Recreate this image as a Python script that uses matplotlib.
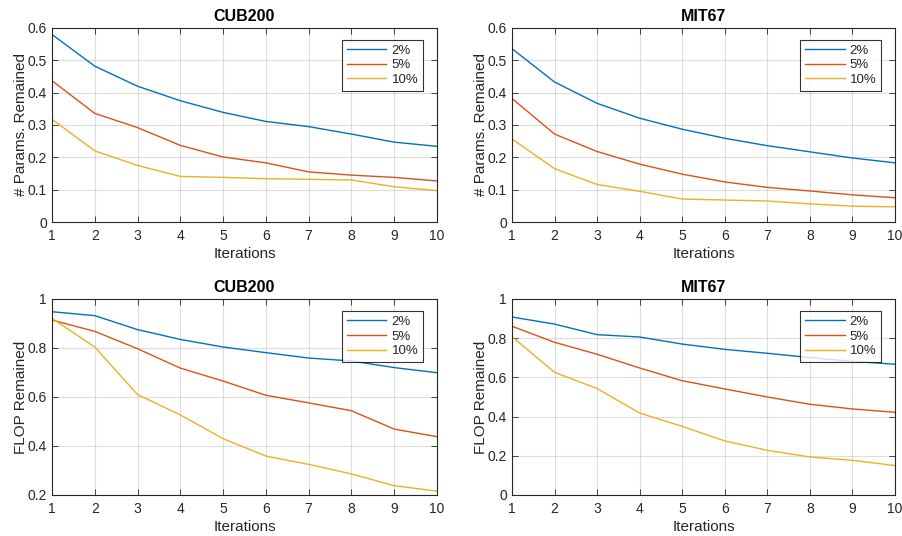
import matplotlib.pyplot as plt
import numpy as np

plt.rcParams['font.family'] = ['Liberation Sans', 'DejaVu Sans']

iterations = np.arange(1, 11)
series_labels = ["2%", "5%", "10%"]
colors = ["#0072BD", "#D95319", "#EDB120"]

# params remained
cub_params_2 = [0.580, 0.482, 0.420, 0.375, 0.339, 0.311, 0.295, 0.272, 0.247, 0.234]
cub_params_5 = [0.437, 0.336, 0.292, 0.237, 0.201, 0.183, 0.155, 0.145, 0.138, 0.127]
cub_params_10 = [0.318, 0.220, 0.175, 0.141, 0.138, 0.134, 0.132, 0.130, 0.109, 0.097]

mit_params_2 = [0.536, 0.433, 0.367, 0.321, 0.287, 0.259, 0.236, 0.217, 0.198, 0.183]
mit_params_5 = [0.382, 0.272, 0.218, 0.179, 0.148, 0.124, 0.107, 0.096, 0.084, 0.075]
mit_params_10 = [0.257, 0.165, 0.116, 0.095, 0.071, 0.068, 0.065, 0.056, 0.049, 0.047]

# FLOP remained
cub_flop_2 = [0.948, 0.932, 0.875, 0.835, 0.804, 0.781, 0.759, 0.747, 0.720, 0.699]
cub_flop_5 = [0.914, 0.868, 0.797, 0.718, 0.665, 0.607, 0.576, 0.544, 0.469, 0.438]
cub_flop_10 = [0.921, 0.804, 0.610, 0.527, 0.430, 0.359, 0.325, 0.286, 0.238, 0.216]

mit_flop_2 = [0.908, 0.872, 0.818, 0.806, 0.770, 0.743, 0.723, 0.701, 0.682, 0.667]
mit_flop_5 = [0.861, 0.779, 0.718, 0.648, 0.583, 0.541, 0.500, 0.463, 0.439, 0.422]
mit_flop_10 = [0.808, 0.626, 0.543, 0.418, 0.350, 0.276, 0.228, 0.194, 0.177, 0.150]

panels = [
    ("CUB200", "# Params. Remained", [cub_params_2, cub_params_5, cub_params_10], (0, 0.6), np.arange(0, 0.61, 0.1)),
    ("MIT67", "# Params. Remained", [mit_params_2, mit_params_5, mit_params_10], (0, 0.6), np.arange(0, 0.61, 0.1)),
    ("CUB200", "FLOP Remained", [cub_flop_2, cub_flop_5, cub_flop_10], (0.2, 1.0), np.arange(0.2, 1.01, 0.2)),
    ("MIT67", "FLOP Remained", [mit_flop_2, mit_flop_5, mit_flop_10], (0, 1.0), np.arange(0, 1.01, 0.2)),
]

# axes rectangles in figure fractions (left, bottom, width, height)
rects = [
    (0.0576, 0.5858, 0.4268, 0.3620),
    (0.5676, 0.5858, 0.4246, 0.3620),
    (0.0576, 0.0765, 0.4268, 0.3657),
    (0.5676, 0.0765, 0.4246, 0.3657),
]

fig = plt.figure(figsize=(9.02, 5.36), dpi=100)
axis_col = "#262626"

for rect, (title, ylabel, data, ylim, yticks) in zip(rects, panels):
    ax = fig.add_axes(rect)
    for vals, lab, col in zip(data, series_labels, colors):
        ax.plot(iterations, vals, color=col, lw=1.0, label=lab)
    ax.set_xlim(1, 10)
    ax.set_ylim(*ylim)
    ax.set_xticks(iterations)
    ax.set_yticks(yticks)
    ax.set_yticklabels([("%g" % round(t, 1)) for t in yticks])
    ax.grid(True, color="#262626", alpha=0.15, lw=0.8)
    ax.tick_params(direction="in", top=True, right=True, labelsize=10,
                   colors=axis_col, length=4, width=0.6)
    ax.tick_params(axis="x", pad=5)
    for s in ax.spines.values():
        s.set_color(axis_col)
        s.set_linewidth(0.8)
    ax.set_title(title, fontsize=11.5, fontweight="bold", pad=5)
    ax.set_xlabel("Iterations", fontsize=11, color=axis_col, labelpad=3)
    ax.set_ylabel(ylabel, fontsize=11, color=axis_col, labelpad=0)
    leg = ax.legend(loc="upper right", bbox_to_anchor=(0.964, 0.938), borderaxespad=0,
                    fontsize=9.5, frameon=True, fancybox=False, handlelength=3.0,
                    handletextpad=0.4, borderpad=0.35, labelspacing=0.18)
    leg.get_frame().set_edgecolor("black")
    leg.get_frame().set_linewidth(0.8)
    for t in leg.get_texts():
        t.set_color(axis_col)

fig.savefig("out.png", dpi=100)
